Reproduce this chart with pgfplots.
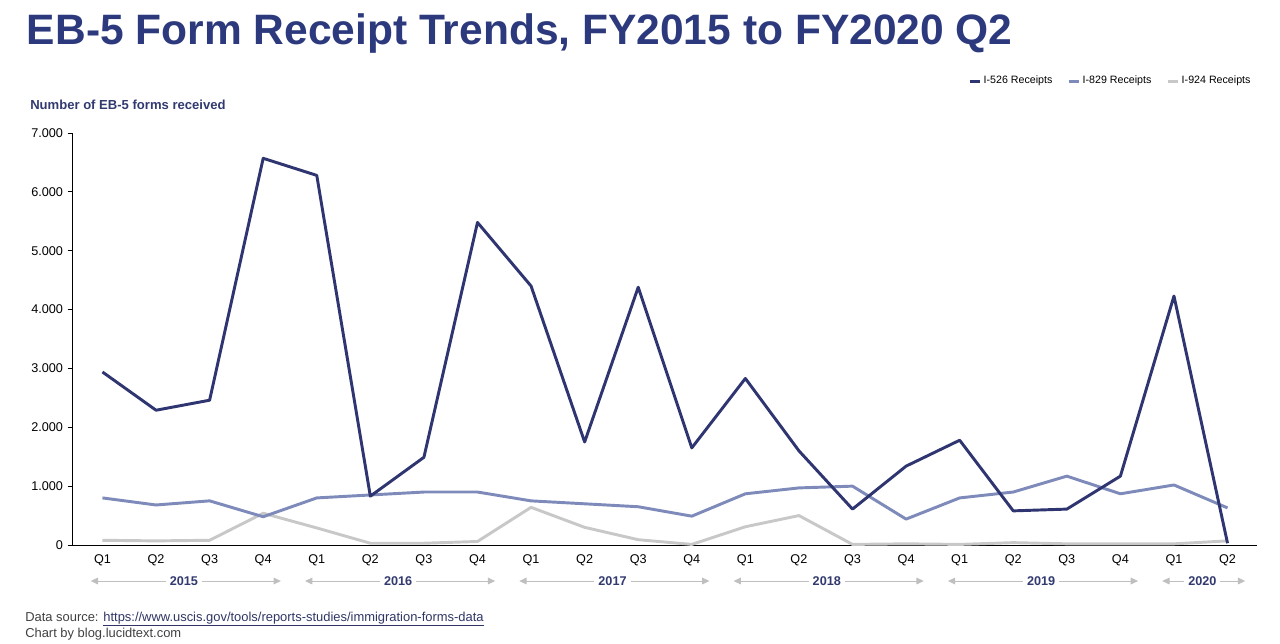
\documentclass[border=0pt]{standalone}
\usepackage{pgfplots}
\pgfplotsset{compat=1.18}
\usepackage{fontspec}
\setmainfont{Liberation Sans}
\usetikzlibrary{arrows.meta}

\definecolor{titlenavy}{RGB}{44,57,125}
\definecolor{c526}{RGB}{46,53,112}
\definecolor{c829}{RGB}{125,138,186}
\definecolor{c924}{RGB}{200,200,200}
\definecolor{yearnavy}{RGB}{50,58,112}
\definecolor{arrowgray}{RGB}{191,191,191}
\definecolor{footgray}{RGB}{64,64,64}
\definecolor{linknavy}{RGB}{47,53,100}

% quarters 0..21 = FY2015 Q1 .. FY2020 Q2
\pgfplotstableread{
q  v526 v829 v924
0  2940 800  80
1  2290 680  70
2  2460 750  80
3  6570 480  540
4  6280 800  290
5  830  850  30
6  1490 900  30
7  5480 900  60
8  4400 750  640
9  1750 700  300
10 4380 650  90
11 1650 490  10
12 2830 870  310
13 1600 970  500
14 610  1000 10
15 1340 440  20
16 1780 800  10
17 580  900  40
18 610  1170 20
19 1170 870  20
20 4230 1020 20
21 30   630  70
}\receipts

\newcommand{\yearspan}[4]{%
  \draw[arrowgray, line width=0.75pt, {Triangle[length=5.5pt,width=5pt]}-{Triangle[length=5.5pt,width=5pt]}]
    (axis cs:#1,-612) -- (axis cs:#2,-612);
  \node[fill=white, inner sep=3pt, text=yearnavy, font=\fontsize{9.5}{11}\selectfont\bfseries]
    at (axis cs:#3,-612) {#4};}

\begin{document}
\begin{tikzpicture}
\path[use as bounding box] (0,0) rectangle (960pt,482.25pt);

\node[anchor=base west, inner sep=0pt, text=titlenavy,
      font=\fontsize{31.9}{36}\selectfont\bfseries]
  at (20pt,448.5pt) {EB-5 Form Receipt Trends, FY2015 to FY2020 Q2};

\node[anchor=base west, inner sep=0pt, text=yearnavy,
      font=\fontsize{9.8}{11}\selectfont\bfseries]
  at (22.5pt,399.75pt) {Number of EB-5 forms received};

\begin{axis}[
  at={(54.75pt,73.5pt)}, anchor=south west,
  scale only axis, width=888pt, height=309pt,
  xmin=-0.55, xmax=21.55, ymin=0, ymax=7000,
  axis lines=left,
  axis line style={-, black, line width=0.75pt},
  xtick={0,...,21},
  xticklabels={Q1,Q2,Q3,Q4,Q1,Q2,Q3,Q4,Q1,Q2,Q3,Q4,Q1,Q2,Q3,Q4,Q1,Q2,Q3,Q4,Q1,Q2},
  x tick style={draw=none},
  ytick={0,1000,...,7000},
  scaled y ticks=false,
  tick align=outside,
  major tick length=4pt,
  y tick style={black, line width=0.75pt},
  ticklabel style={font=\fontsize{9.5}{11}\selectfont, text=black},
  /pgf/number format/.cd, 1000 sep={.}, assume math mode=true,
  /pgfplots/.cd,
  clip=false,
  reverse legend,
  legend columns=3,
  legend style={at={(0.997,1.126)}, anchor=east, draw=none, fill=none,
    inner sep=0pt, font=\fontsize{8}{9}\selectfont,
    /tikz/every even column/.append style={column sep=9pt}},
  legend image code/.code={\draw[#1, line width=2.2pt] (0pt,0pt) -- (7.5pt,0pt);},
]
\addplot[c924, line width=2.2pt, line join=round] table[x=q, y=v924] {\receipts};
\addlegendentry{I-924 Receipts}
\addplot[c829, line width=2.2pt, line join=round] table[x=q, y=v829] {\receipts};
\addlegendentry{I-829 Receipts}
\addplot[c526, line width=2.2pt, line join=round] table[x=q, y=v526] {\receipts};
\addlegendentry{I-526 Receipts}

\yearspan{-0.22}{3.33}{1.52}{2015}
\yearspan{3.78}{7.33}{5.52}{2016}
\yearspan{7.78}{11.33}{9.52}{2017}
\yearspan{11.78}{15.33}{13.52}{2018}
\yearspan{15.78}{19.33}{17.52}{2019}
\yearspan{19.78}{21.33}{20.53}{2020}
\end{axis}

\node[anchor=base west, inner sep=0pt, text=footgray,
      font=\fontsize{9.7}{11}\selectfont]
  at (18.75pt,16.5pt) {Data source: \textcolor{linknavy}{\underline{https://www.uscis.gov/tools/reports-studies/immigration-forms-data}}};
\node[anchor=base west, inner sep=0pt, text=footgray,
      font=\fontsize{9.7}{11}\selectfont]
  at (18.75pt,4.5pt) {Chart by blog.lucidtext.com};
\end{tikzpicture}
\end{document}
